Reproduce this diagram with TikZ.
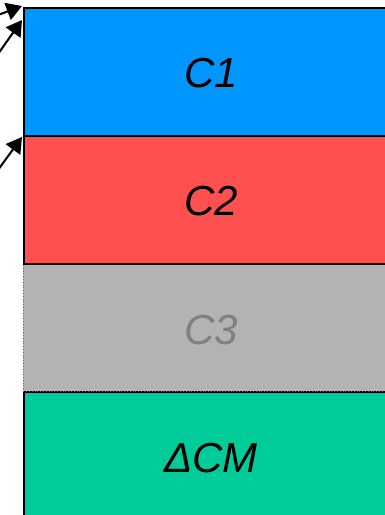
\documentclass[tikz,border=0pt]{standalone}
\usepackage{fontspec}
\setmainfont{Liberation Sans}
\usetikzlibrary{arrows.meta}
\definecolor{cblue}{HTML}{0096FF}
\definecolor{cred}{HTML}{FF5050}
\definecolor{cgray}{HTML}{B3B3B3}
\definecolor{cgreen}{HTML}{00CC99}
\begin{document}
\begin{tikzpicture}[x=1pt,y=-1pt,
  layer/.style={draw=black,line width=2pt,anchor=north west,minimum width=400pt,minimum height=128pt,inner sep=0pt},
  ghost/.style={draw=gray!80!black,dotted,line width=0.8pt,anchor=north west,minimum width=400pt,minimum height=128pt,inner sep=0pt},
  lbl/.style={font=\fontsize{42}{42}\selectfont\itshape},
  pointer/.style={line width=2pt,arrows={-Triangle[scale=1.8]}}]
\useasboundingbox (0,0) rectangle (385,515);
\node[layer,fill=cgreen] (cm) at (23,391) {};
\node[ghost,fill=cgray] (c3) at (23,263) {};
\node[layer,fill=cred] (c2) at (23,135) {};
\node[layer,fill=cblue] (c1) at (23,7) {};
\node[lbl] (t1) at (211,73) {C1};
\node[lbl] (t2) at (211,201) {C2};
\node[lbl,text=gray] (t3) at (211,330) {C3};
\node[lbl] (t4) at (211,458) {ΔCM};
\coordinate (s1) at (-2,15);
\coordinate (s2) at (-2,54);
\coordinate (s3) at (-2,170);
\coordinate (e1) at (22,6);
\coordinate (e2) at (22,20);
\coordinate (e3) at (22,137);
\draw[pointer] (s1) -- (e1);
\draw[pointer] (s2) -- (e2);
\draw[pointer] (s3) -- (e3);
\end{tikzpicture}
\end{document}
